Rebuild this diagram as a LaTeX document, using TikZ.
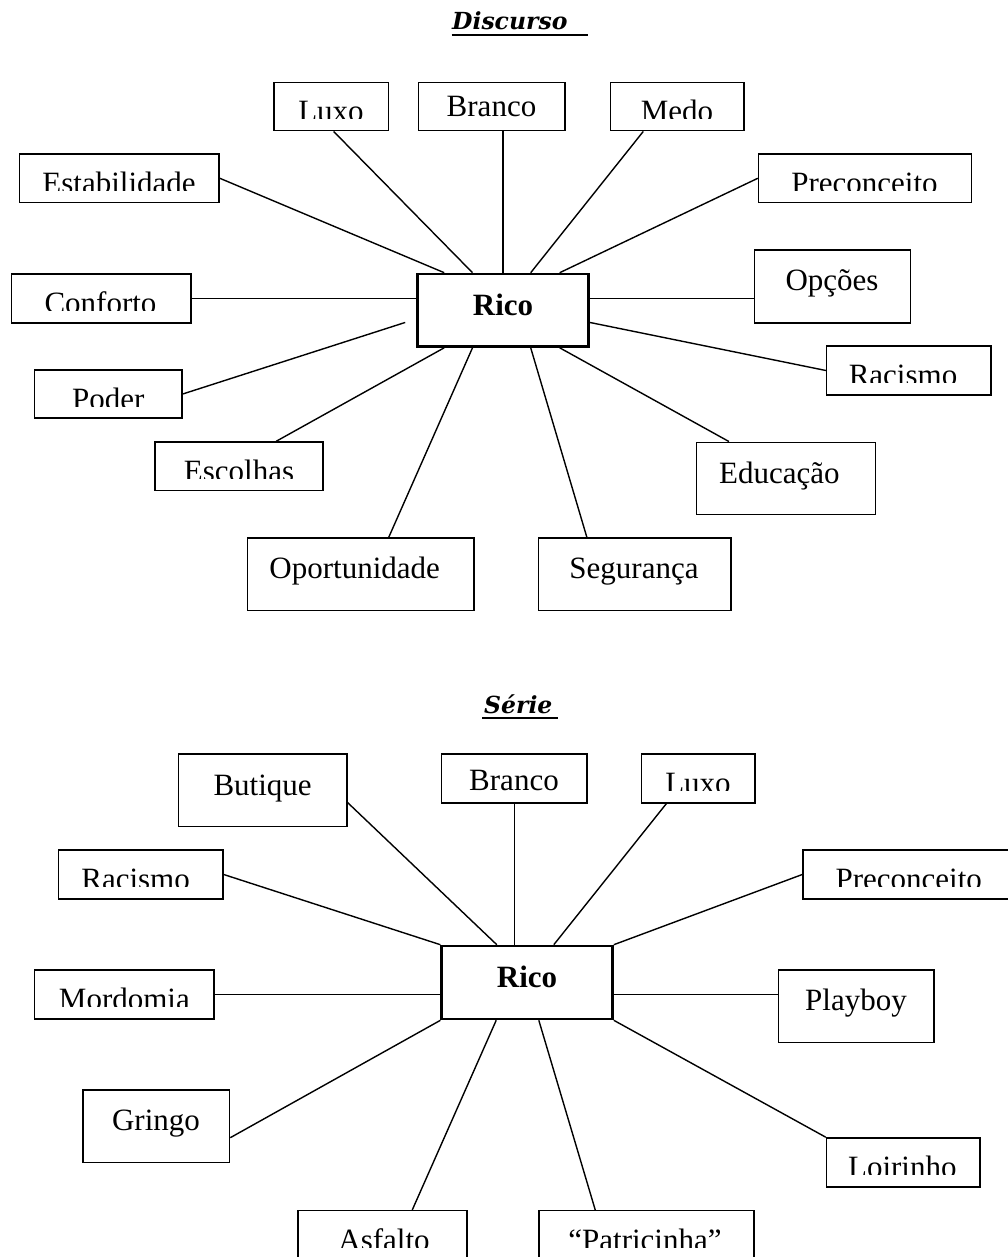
\documentclass[tikz,border=0pt]{standalone}
\usepackage{fontspec}
\setmainfont{Liberation Serif}
\newfontfamily\headfont{DejaVu Serif}
\usetikzlibrary{calc}

\tikzset{
  box/.style={draw=black, line width=1.5pt, rectangle, inner sep=0pt, fill=white},
  hub/.style={draw=black, line width=2.6pt, rectangle, inner sep=0pt, fill=white},
  link/.style={draw=black, line width=1.4pt},
  lbl/.style={anchor=base, inner sep=0pt, font=\fontsize{31}{37}\selectfont},
  hublbl/.style={anchor=base, inner sep=0pt, font=\fontsize{31}{37}\selectfont\bfseries},
  heading/.style={anchor=base west, inner sep=0pt, font=\headfont\fontsize{23.5}{28}\selectfont\bfseries\itshape},
  rule/.style={draw=black, line width=2.2pt}
}

% box from its two corners (x1,y1) (x2,y2), y measured downwards
\newcommand\placebox[6][box]{%
  \node[#1, minimum width={#5-#3}, minimum height={#6-#4}] (#2) at ({(#3+#5)/2},{(#4+#6)/2}) {};}
% word with its baseline at (x,y)
\newcommand\boxlabel[4]{\node[lbl] (#1) at (#2,#3) {#4};}
% word whose lower edge is trimmed at height #4
\newcommand\cutboxlabel[5]{%
  \begin{scope}
    \clip ({#2-150},{#3-40}) rectangle ({#2+150},#4);
    \node[lbl] (#1) at (#2,#3) {#5};
  \end{scope}}

\begin{document}
\begin{tikzpicture}[x=1pt, y=-1pt]
\useasboundingbox (0,0) rectangle (1008,1257);
\clip (0,0) rectangle (1008,1257);
\fill[white] (0,0) rectangle (1008,1257);

% ---------------- Discurso ----------------
\node[heading] (titleA) at (452,29.3) {Discurso};
\draw[rule] (451.7,35) -- (587.7,35);

\placebox{luxoA}{274}{82.5}{388.3}{130.7}
\placebox{brancoA}{418.7}{82.5}{565}{130.7}
\placebox{medoA}{610.7}{82.5}{743.8}{130.7}
\placebox{estA}{19.5}{154}{219}{202.5}
\placebox{precA}{758.6}{154}{971.3}{202.5}
\placebox{confA}{11.6}{274}{191}{323}
\placebox{opcA}{754.7}{250}{910.3}{323}
\placebox[hub]{ricoA}{417.5}{274}{588.5}{346.5}
\placebox{poderA}{34.7}{370}{182}{418}
\placebox{racA}{826.6}{346}{991}{395}
\placebox{escA}{155}{442}{323}{490.7}
\placebox{eduA}{696.7}{442.3}{875.7}{514.3}
\placebox{opA}{247.5}{538}{474}{610.7}
\placebox{segA}{538.6}{538}{731}{610.7}

\cutboxlabel{luxoAt}{331}{122}{119}{Luxo}
\boxlabel{brancoAt}{491.5}{117}{Branco}
\cutboxlabel{medoAt}{677}{122}{119}{Medo}
\cutboxlabel{estAt}{119}{193.5}{190.5}{Estabilidade}
\cutboxlabel{precAt}{864.5}{193.5}{190.5}{Preconceito}
\cutboxlabel{confAt}{100.5}{313.5}{310.5}{Conforto}
\boxlabel{opcAt}{832}{290}{Opções}
\node[hublbl] (ricoAt) at (503,315) {Rico};
\cutboxlabel{poderAt}{108.3}{409}{406.5}{Poder}
\cutboxlabel{racAt}{903}{385.5}{382.5}{Racismo}
\cutboxlabel{escAt}{239}{481.5}{478.5}{Escolhas}
\boxlabel{eduAt}{779.4}{483.3}{Educação}
\boxlabel{opAt}{354.7}{578.5}{Oportunidade}
\boxlabel{segAt}{634}{578.5}{Segurança}

\coordinate (poderEnd) at ([xshift=-11pt,yshift=-12.2pt]ricoA.west);
\draw[link] ([xshift=2.5pt]luxoA.south) -- ([xshift=56.3pt]ricoA.north west);
\draw[link] (brancoA.south -| ricoA.north) -- (ricoA.north);
\draw[link] ([xshift=33.3pt]medoA.south west) -- ([xshift=114.5pt]ricoA.north west);
\draw[link] (estA.east) -- ([xshift=28pt]ricoA.north west);
\draw[link] (precA.west) -- ([xshift=143.5pt]ricoA.north west);
\draw[link] (confA.east) -- (confA.east -| ricoA.west);
\draw[link] (confA.east -| ricoA.east) -- (confA.east -| opcA.west);
\draw[link] (poderA.east) -- (poderEnd);
\draw[link] ([yshift=-12.2pt]ricoA.east) -- (racA.west);
\draw[link] ([xshift=28pt]ricoA.south west) -- ([xshift=122pt]escA.north west);
\draw[link] ([xshift=143.5pt]ricoA.south west) -- ([xshift=33pt]eduA.north west);
\draw[link] ([xshift=56.3pt]ricoA.south west) -- ([xshift=142pt]opA.north west);
\draw[link] ([xshift=114.5pt]ricoA.south west) -- ([xshift=49pt]segA.north west);

% ---------------- Série ----------------
\node[heading] (titleB) at (484,713.3) {Série};
\draw[rule] (482.3,718.3) -- (558.3,718.3);

\placebox{butB}{178.7}{754}{347}{826.7}
\placebox{brancoB}{441.6}{754}{587}{803}
\placebox{luxoB}{641.5}{754}{755}{803}
\placebox{racB}{58.5}{850}{223}{899}
\placebox{precB}{803}{850}{1015}{899}
\placebox[hub]{ricoB}{441.7}{946}{612.5}{1019}
\placebox{mordB}{34.7}{970}{214}{1019}
\placebox{playB}{778.5}{970}{934}{1042.7}
\placebox{gringoB}{83}{1090}{229.5}{1162.7}
\placebox{loirB}{826.6}{1138}{980}{1187}
\placebox{asfB}{298}{1210.7}{467}{1284}
\placebox{patB}{539}{1210.7}{754}{1284}

\boxlabel{butBt}{262.6}{795}{Butique}
\boxlabel{brancoBt}{514}{790}{Branco}
\cutboxlabel{luxoBt}{698}{793.5}{790.5}{Luxo}
\cutboxlabel{racBt}{135.6}{889.5}{886.5}{Racismo}
\cutboxlabel{precBt}{908.7}{889.5}{886.5}{Preconceito}
\node[hublbl] (ricoBt) at (527,987.3) {Rico};
\cutboxlabel{mordBt}{124.4}{1009.5}{1006.5}{Mordomia}
\boxlabel{playBt}{856}{1010.5}{Playboy}
\boxlabel{gringoBt}{156}{1130.5}{Gringo}
\cutboxlabel{loirBt}{902.3}{1177.5}{1174.5}{Loirinho}
\cutboxlabel{asfBt}{384}{1250.2}{1247.2}{Asfalto}
\cutboxlabel{patBt}{645}{1250.2}{1247.2}{“Patricinha”}

\draw[link] ([yshift=-12.35pt]butB.east) -- ([xshift=56.4pt]ricoB.north west);
\draw[link] (brancoB.south) -- (brancoB.south |- ricoB.north);
\draw[link] ([xshift=25.5pt]luxoB.south west) -- ([xshift=113.4pt]ricoB.north west);
\draw[link] (racB.east) -- (ricoB.north west);
\draw[link] (precB.west) -- (ricoB.north east);
\draw[link] (mordB.east) -- (mordB.east -| ricoB.west);
\draw[link] (mordB.east -| ricoB.east) -- (mordB.east -| playB.west);
\draw[link] ([yshift=-11.35pt]gringoB.east) -- (ricoB.south west);
\draw[link] (ricoB.south east) -- (loirB.north west);
\draw[link] ([xshift=55.8pt]ricoB.south west) -- ([xshift=115pt]asfB.north west);
\draw[link] ([xshift=98.4pt]ricoB.south west) -- ([xshift=57pt]patB.north west);
\end{tikzpicture}
\end{document}
